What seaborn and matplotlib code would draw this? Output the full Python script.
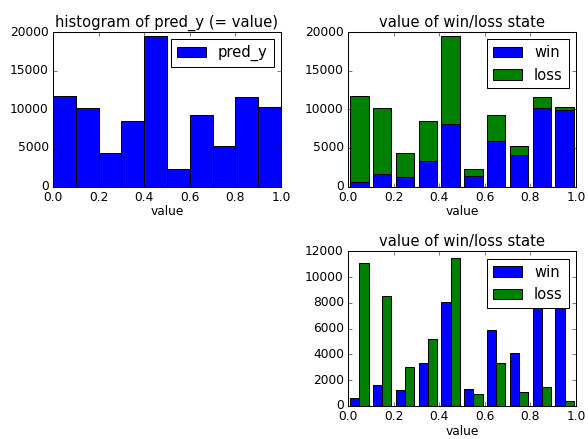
import numpy as np
import pandas as pd
import matplotlib
matplotlib.use("Agg")
import matplotlib.pyplot as plt
from matplotlib.patches import Patch
import seaborn as sns

plt.style.use("classic")

# Bin edges shared by all three histograms
bin_edges = [0.0, 0.1, 0.2, 0.3, 0.4, 0.5, 0.6, 0.7, 0.8, 0.9, 1.0]

# Counts per bin for predictions in each final state
win_counts = [600, 1650, 1250, 3300, 8050, 1350, 5900, 4150, 10150, 9850]
loss_counts = [11100, 8550, 3050, 5200, 11450, 900, 3350, 1100, 1450, 400]

states = ["win", "loss"]
state_colors = {"win": "blue", "loss": "green"}

centers = [(a + b) / 2 for a, b in zip(bin_edges[:-1], bin_edges[1:])]
total_counts = [w + l for w, l in zip(win_counts, loss_counts)]

df_total = pd.DataFrame({"value": centers, "count": total_counts})
df_state = pd.DataFrame({
    "value": centers * 2,
    "count": win_counts + loss_counts,
    "state": ["win"] * len(centers) + ["loss"] * len(centers),
})

fig, axes = plt.subplots(2, 2, figsize=(8, 439 / 73.5), dpi=73.5)
fig.subplots_adjust(left=0.0901, right=0.9796, top=0.9271, bottom=0.0752,
                    wspace=0.2937, hspace=0.419)

bar_kws = dict(edgecolor="black", linewidth=1.0, alpha=1)

# Overall histogram of predicted values
ax = axes[0, 0]
sns.histplot(data=df_total, x="value", weights="count", bins=bin_edges,
             color="blue", ax=ax, **bar_kws)
ax.set_title("histogram of pred_y (= value)")
ax.legend(handles=[Patch(facecolor="blue", edgecolor="black")],
          labels=["pred_y"], loc="upper right")
ax.set_xlim(0, 1)
ax.set_ylim(0, 20000)

# Stacked by state (win at the bottom)
ax = axes[0, 1]
sns.histplot(data=df_state, x="value", weights="count", bins=bin_edges,
             hue="state", hue_order=["loss", "win"], palette=state_colors,
             multiple="stack", shrink=0.8, legend=False, ax=ax, **bar_kws)
ax.set_title("value of win/loss state")
ax.set_xlim(0, 1)
ax.set_ylim(0, 20000)

# Side by side by state
ax = axes[1, 1]
sns.histplot(data=df_state, x="value", weights="count", bins=bin_edges,
             hue="state", hue_order=states, palette=state_colors,
             multiple="dodge", shrink=0.8, legend=False, ax=ax, **bar_kws)
ax.set_title("value of win/loss state")
ax.set_xlim(0, 1)
ax.set_ylim(0, 12000)

for ax in (axes[0, 1], axes[1, 1]):
    handles = [Patch(facecolor=state_colors[s], edgecolor="black") for s in states]
    ax.legend(handles=handles, labels=states, loc="upper right")

for ax in (axes[0, 0], axes[0, 1], axes[1, 1]):
    ax.set_xlabel("value", labelpad=1.5)
    ax.set_ylabel("")
    ax.set_xticks([0.0, 0.2, 0.4, 0.6, 0.8, 1.0])

axes[1, 0].axis("off")

fig.savefig("out.png", dpi=73.5)
